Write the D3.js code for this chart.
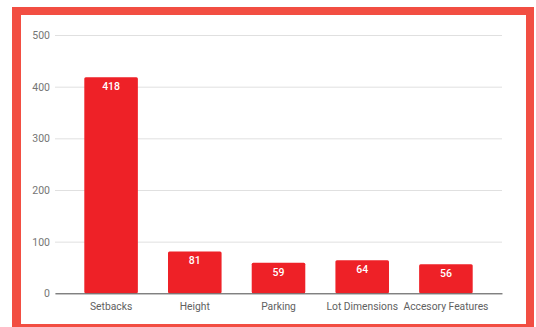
<!DOCTYPE html>
<html>
<head>
<meta charset="utf-8">
<script src="https://cdn.jsdelivr.net/npm/d3@7"></script>
<style>
  html, body { margin: 0; padding: 0; background: #ffffff; }
  svg { display: block; }
  text { font-family: Roboto, "Noto Sans", Arial, sans-serif; }
</style>
</head>
<body>
<svg id="chart" width="536" height="327"></svg>
<script>
// Zoning issue counts by category
const categories = ["Setbacks", "Height", "Parking", "Lot Dimensions", "Accesory Features"];
const counts = [418, 81, 59, 64, 56];
const yTicks = [0, 100, 200, 300, 400, 500];

const svg = d3.select("#chart");
const W = 536, H = 327;

// Red frame around the chart card
svg.append("rect")
  .attr("x", 12).attr("y", 7)
  .attr("width", W - 12 - 2).attr("height", H - 7 + 10)
  .attr("fill", "#f24e42");
svg.append("rect")
  .attr("x", 21).attr("y", 15)
  .attr("width", 526 - 21).attr("height", 324 - 15)
  .attr("fill", "#ffffff");

const plot = { left: 55, right: 502, top: 35, bottom: 293.3 };

const x = d3.scaleBand()
  .domain(categories)
  .range([plot.left, plot.right])
  .paddingInner(0.36)
  .paddingOuter(0.35);

const y = d3.scaleLinear()
  .domain([0, 500])
  .range([plot.bottom, plot.top]);

// Horizontal gridlines and value labels
const yAxis = d3.axisLeft(y)
  .tickValues(yTicks)
  .tickSize(-(plot.right - plot.left))
  .tickPadding(5);

const gy = svg.append("g")
  .attr("transform", `translate(${plot.left},0)`)
  .call(yAxis);
gy.select(".domain").remove();
gy.selectAll(".tick line").attr("stroke", "#e0e0e0").attr("stroke-width", 1);
gy.selectAll(".tick text")
  .attr("fill", "#757575")
  .attr("font-size", 10.5)
  .attr("font-family", "Roboto, 'Noto Sans', Arial, sans-serif");

// Bars
svg.append("g").selectAll("rect")
  .data(categories)
  .join("rect")
  .attr("x", d => x(d))
  .attr("y", (d, i) => y(counts[i]))
  .attr("width", x.bandwidth())
  .attr("height", (d, i) => y(0) - y(counts[i]))
  .attr("rx", 1.5)
  .attr("fill", "#ee2127");

// Value labels inside the bars
svg.append("g").selectAll("text")
  .data(categories)
  .join("text")
  .attr("x", d => x(d) + x.bandwidth() / 2)
  .attr("y", (d, i) => y(counts[i]) + 13)
  .attr("text-anchor", "middle")
  .attr("fill", "#ffffff")
  .attr("font-size", 10.5)
  .attr("font-weight", 500)
  .text((d, i) => counts[i]);

// Category axis along the baseline
const xAxis = d3.axisBottom(x).tickSize(0).tickPadding(9);
const gx = svg.append("g")
  .attr("transform", `translate(0,${plot.bottom})`)
  .call(xAxis);
gx.select(".domain").attr("stroke", "#555555").attr("stroke-width", 1);
gx.selectAll(".tick text")
  .attr("fill", "#616161")
  .attr("font-size", 10.3)
  .attr("font-family", "Roboto, 'Noto Sans', Arial, sans-serif");
</script>
</body>
</html>
